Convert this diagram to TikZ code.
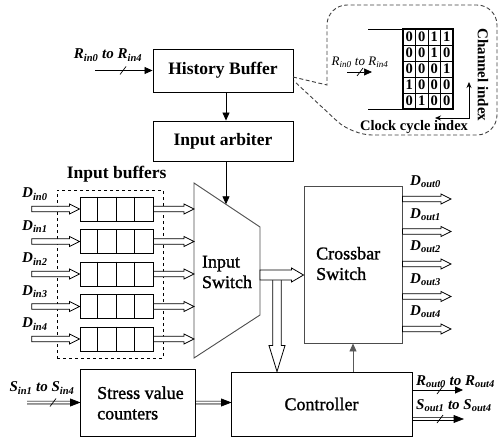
\documentclass[tikz,border=0pt]{standalone}
\usepackage{fontspec}
\setmainfont{Liberation Serif}
\newfontfamily\medfont[FakeBold=1.3]{Liberation Serif}
\usetikzlibrary{arrows.meta,calc}
\newcommand\sg[2]{\textbf{\textit{#1}}\textsubscript{\textbf{\textit{#2}}}}
\newcommand\sgi[2]{\textit{#1}\textsubscript{\textit{#2}}}
\def\fs{2.75pt}\def\fh{5pt}\def\fl{10pt}
\tikzset{
  fatsize/.code args={#1/#2/#3}{\def\fs{#1}\def\fh{#2}\def\fl{#3}},
  fat/.style={draw, fill=white, line width=0.8pt, line join=miter},
  fatR/.style={to path={let \p1=(\tikztostart), \p2=(\tikztotarget) in
    (\x1,\y1+\fs) -- (\x2-\fl,\y1+\fs) -- (\x2-\fl,\y1+\fh) -- (\x2,\y1) -- (\x2-\fl,\y1-\fh) -- (\x2-\fl,\y1-\fs) -- (\x1,\y1-\fs) -- cycle}},
  fatD/.style={to path={let \p1=(\tikztostart), \p2=(\tikztotarget) in
    (\x1-\fs,\y1) -- (\x1-\fs,\y2+\fl) -- (\x1-\fh,\y2+\fl) -- (\x1,\y2) -- (\x1+\fh,\y2+\fl) -- (\x1+\fs,\y2+\fl) -- (\x1+\fs,\y1) -- cycle}},
  dbl/.style={draw, fill=black, line width=0.7pt},
  dblR/.style={to path={let \p1=(\tikztostart), \p2=(\tikztotarget) in
    (\x1,\y1+1.4pt) -- (\x2-8pt,\y1+1.4pt) (\x1,\y1-1.4pt) -- (\x2-8pt,\y1-1.4pt)
    (\x2-9pt,\y1+3.5pt) -- (\x2,\y1) -- (\x2-9pt,\y1-3.5pt) -- cycle}},
  slashmark/.pic={\draw[line width=0.7pt] (-3,4) -- (3,-4);},
}
\begin{document}
\begin{tikzpicture}[x=1pt,y=-1pt,
  box/.style={draw, line width=0.9pt, inner sep=0pt},
  bt/.style={font=\bfseries\fontsize{17.5pt}{20pt}\selectfont},
  rt/.style={font=\medfont\fontsize{18pt}{20.5pt}\selectfont, inner sep=0pt},
  lab/.style={font=\fontsize{15pt}{17pt}\selectfont, inner sep=0pt},
  arr/.style={line width=0.8pt, -{Triangle[length=8pt,width=7pt]}},
  callout/.style={draw=black!75, line width=0.9pt, dash pattern=on 4pt off 2.5pt},
  dig/.style={font=\bfseries\fontsize{14.5pt}{16pt}\selectfont, inner sep=0pt},
]
\useasboundingbox (0,0) rectangle (498,439);

% boxes
\node[box, bt, minimum width=140pt, minimum height=43pt] (hb) at (223,70.5) {History Buffer};
\node[box, bt, minimum width=140pt, minimum height=40pt] (arb) at (223,141) {Input arbiter};
\node[box, draw=black!70, minimum width=98pt, minimum height=157pt] (cb) at (353,264.5) {};
\node[rt, align=left, anchor=west] (cbt) at (316,263.5) {Crossbar\\Switch};
\node[box, rt, minimum width=181pt, minimum height=64pt] (ctl) at (321.5,404) {Controller};
\node[box, minimum width=115pt, minimum height=67pt] (svc) at (137.5,402.5) {};
\node[rt, align=left, anchor=west] (svct) at (97,403) {Stress value\\counters};
\node[draw, line width=0.8pt, dashed, minimum width=106pt, minimum height=168pt] (ib) at (110,274) {};
\node[bt] (ibl) at (116.7,174) {Input buffers};

% input switch
\coordinate (sw1) at (194,183);
\coordinate (sw2) at (260,227);
\coordinate (sw3) at (260,315);
\coordinate (sw4) at (194,358);
\draw[line width=0.9pt, draw=black!70] (sw1) -- (sw2) -- (sw3) -- (sw4) -- cycle;
\node[rt, align=left] (swt) at (227,272) {Input\\Switch};

% buffers
\foreach \i/\yy in {0/209,1/241.5,2/274,3/306.5,4/339} {
  \node[box, minimum width=73pt, minimum height=24pt] (b\i) at (116.5,\yy) {};
  \foreach \k in {1,2,3}
    \draw[line width=0.9pt] ($(b\i.north west)+(18.25*\k,0)$) -- ($(b\i.south west)+(18.25*\k,0)$);
  \coordinate (din\i) at (31.7,\yy);
  \draw[fat] (din\i) to[fatR] (b\i.west);
  \draw[fat] (b\i.east) to[fatR] (b\i.east -| sw1);
  \node[lab, anchor=west] (dl\i) at (22,\yy-15) {\sg{D}{in\i}};
}

% top connections
\coordinate (rin) at (95,70.5);
\draw[arr] (rin) -- (hb.west);
\pic at (123,70.5) {slashmark};
\node[lab] (rinl) at (108,55) {\sg{R}{in0} \textbf{\textit{to}} \sg{R}{in4}};
\draw[arr] ([xshift=3pt]hb.south) -- ([xshift=3pt]arb.north);
\coordinate (swtop) at (226,204.3);
\draw[arr] ([xshift=3pt]arb.south) -- (swtop);

% switch to crossbar and controller
\coordinate (swo) at (260,275);
\coordinate (vd) at (277,275);
\draw[fat, fatsize={4.3pt/8pt/26pt}] (vd) to[fatD] (vd |- ctl.north);
\draw[fat, fatsize={5pt/7pt/12pt}] (swo) to[fatR] (swo -| cb.west);
\draw[arr, draw=black!65, fill=black!65] (cb.south |- ctl.north) -- (cb.south);

% outputs of crossbar
\foreach \i/\yy in {0/199,1/231.5,2/264,3/296.5,4/329} {
  \coordinate (do\i) at (451,\yy);
  \draw[fat] (do\i -| cb.east) to[fatR] (do\i);
  \node[lab, anchor=west] (dol\i) at (410,\yy-17) {\sg{D}{out\i}};
}

% stress and controller
\coordinate (sin) at (27,402.5);
\draw[dbl] (sin) to[dblR] (svc.west);
\pic at (53,402.5) {slashmark};
\node[lab] (sinl) at (42,388) {\sg{S}{in1} \textbf{\textit{to}} \sg{S}{in4}};
\draw[dbl] (svc.east) to[dblR] (svc.east -| ctl.west);

\coordinate (rout) at (463,390);
\draw[arr] (rout -| ctl.east) -- (rout);
\pic at (440,390) {slashmark};
\node[lab, anchor=west] (routl) at (416,381.5) {\sg{R}{out0} \textbf{\textit{to}} \sg{R}{out4}};
\coordinate (sout) at (463,419);
\draw[dbl] (sout -| ctl.east) to[dblR] (sout);
\pic at (440,419) {slashmark};
\node[lab, anchor=west] (soutl) at (416,406) {\sg{S}{out1} \textbf{\textit{to}} \sg{S}{out4}};

% callout
\coordinate (t1) at (293,77);
\coordinate (t2) at (294,81);
\draw[callout] (t1) -- (327,85) [rounded corners=20pt] -- (327,5) -- (497,5) -- (497,135) -- (352,135) [sharp corners] -- (t2);
\draw[line width=0.8pt] (368,29) -- (403,29);
\draw[line width=0.8pt] (368,109) -- (403,109);
\foreach \k in {0,...,4} \draw[line width=1pt] (403+12.5*\k,29) -- (403+12.5*\k,109);
\foreach \k in {0,...,5} \draw[line width=1pt] (403,29+16*\k) -- (453,29+16*\k);
\draw[line width=1.3pt] (403,29) rectangle (453,109);
\foreach \r/\row in {0/{0,0,1,1},1/{0,0,1,0},2/{0,0,0,1},3/{1,0,0,0},4/{0,1,0,0}} {
  \foreach \v [count=\c from 0] in \row {
    \node[dig] (m\r\c) at (409.25+12.5*\c,37+16*\r) {\v};
  }
}
\coordinate (cr) at (372,72);
\draw[arr, line width=0.7pt] (347,72) -- (cr);
\pic at (360,72) {slashmark};
\node[font=\fontsize{13pt}{15pt}\selectfont, inner sep=0pt] (crl) at (360,62) {\sgi{R}{in0} \textit{to} \sgi{R}{in4}};
\node[font=\bfseries\fontsize{15pt}{17pt}\selectfont, rotate=-90, inner sep=0pt] (chi) at (483,75) {Channel index};
\node[font=\bfseries\fontsize{14.5pt}{16pt}\selectfont, inner sep=0pt] (cci) at (414,127) {Clock cycle index};
\draw[line width=0.7pt, {Stealth[length=6pt,width=5pt]}-{Stealth[length=6pt,width=5pt]}] (435,118) -- (469,118) -- (469,82);
\end{tikzpicture}
\end{document}
